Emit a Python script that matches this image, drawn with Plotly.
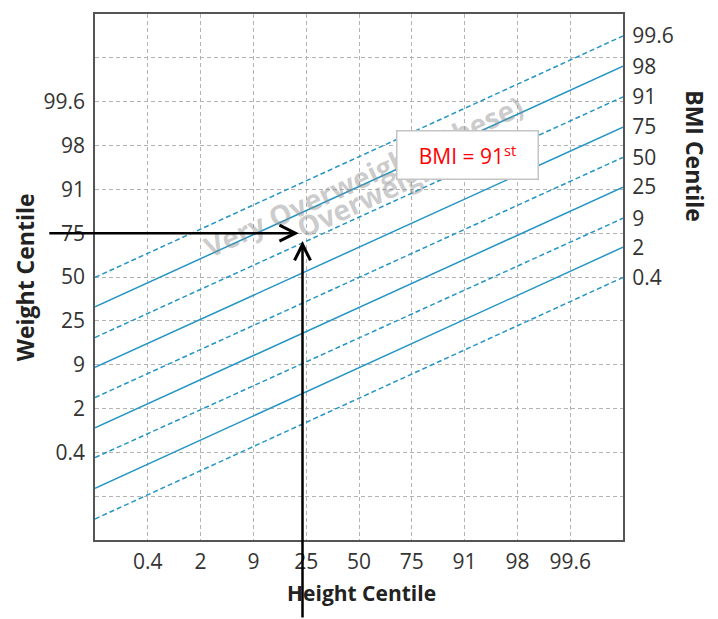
import plotly.graph_objects as go

# ---- data ----
height_ticks = ["0.4", "2", "9", "25", "50", "75", "91", "98", "99.6"]
height_pos = [1, 2, 3, 4, 5, 6, 7, 8, 9]
weight_ticks = ["", "0.4", "2", "9", "25", "50", "75", "91", "98", "99.6", ""]
weight_pos = [1, 2, 3, 4, 5, 6, 7, 8, 9, 10, 11]

bmi_labels = ["99.6", "98", "91", "75", "50", "25", "9", "2", "0.4"]
bmi_left = [5.99, 5.32, 4.62, 3.94, 3.25, 2.56, 1.88, 1.18, 0.48]   # weight units at height-axis start
bmi_right = [11.50, 10.81, 10.11, 9.42, 8.73, 8.05, 7.34, 6.68, 5.99]  # weight units at height-axis end
x_start, x_end = 0, 10

# pointer example: weight 75th centile, height just under 25th centile
pointer_weight = 7.0
pointer_height = 3.93

LINE = "#2595c4"
GRID = "#b3b3b3"
FONT = "Open Sans"

fig = go.Figure()

for i, (lab, yl, yr) in enumerate(zip(bmi_labels, bmi_left, bmi_right)):
    fig.add_trace(go.Scatter(
        x=[x_start, x_end], y=[yl, yr], mode="lines", name=lab,
        line=dict(color=LINE, width=1.5, dash="5px,3px" if i % 2 == 0 else "solid"),
        hoverinfo="skip", showlegend=False,
    ))

# dummy trace to activate the right-hand axis
fig.add_trace(go.Scatter(x=[None], y=[None], yaxis="y2", showlegend=False, hoverinfo="skip"))

axis_font = dict(family=FONT, size=21, color="#333333")

fig.update_layout(
    width=710, height=611,
    margin=dict(l=87, r=95, t=6, b=79, autoexpand=False),
    paper_bgcolor="white", plot_bgcolor="white",
    font=dict(family=FONT, color="#333333"),
    xaxis=dict(
        range=[0, 10], tickvals=height_pos, ticktext=height_ticks,
        showgrid=True, gridcolor=GRID, gridwidth=1, griddash="4px,3px",
        zeroline=False, showline=True, mirror=True, linecolor="#555555", linewidth=1.5,
        ticks="outside", ticklen=2, tickcolor="rgba(0,0,0,0)", tickfont=axis_font,
        fixedrange=True,
    ),
    yaxis=dict(
        range=[0, 12], tickvals=weight_pos, ticktext=weight_ticks,
        showgrid=True, gridcolor=GRID, gridwidth=1, griddash="4px,3px",
        zeroline=False, showline=True, mirror=True, linecolor="#555555", linewidth=1.5,
        ticks="outside", ticklen=4, tickcolor="rgba(0,0,0,0)", tickfont=axis_font,
        fixedrange=True,
    ),
    yaxis2=dict(
        range=[0, 12], overlaying="y", side="right", anchor="x",
        tickvals=bmi_right, ticktext=bmi_labels,
        showgrid=False, zeroline=False, showline=False,
        ticks="outside", ticklen=4, tickcolor="rgba(0,0,0,0)", tickfont=axis_font,
        fixedrange=True,
    ),
)

# watermark labels (semi-transparent so the lines show through)
wm = dict(family=FONT, size=28, color="rgba(140,140,140,0.45)")
fig.add_annotation(x=5.08, y=8.30, xref="x", yref="y", text="<b>Very Overweight (Obese)</b>",
                   showarrow=False, textangle=-24.6, font=wm, xanchor="center", yanchor="middle")
fig.add_annotation(x=5.25, y=7.87, xref="x", yref="y", text="<b>Overweight</b>",
                   showarrow=False, textangle=-24.6, font=wm, xanchor="center", yanchor="middle")

# axis titles
fig.add_annotation(x=-0.132, y=0.5, xref="paper", yref="paper", text="<b>Weight Centile</b>",
                   showarrow=False, textangle=-90, xanchor="center", yanchor="middle",
                   font=dict(family=FONT, size=23, color="#222222"))
fig.add_annotation(x=0.504, y=-0.1008, xref="paper", yref="paper", text="<b>Height Centile</b>",
                   showarrow=False, xanchor="center", yanchor="middle",
                   font=dict(family=FONT, size=21, color="#222222"))
fig.add_annotation(x=1.136, y=0.73, xref="paper", yref="paper", text="<b>BMI Centile</b>",
                   showarrow=False, textangle=90, xanchor="center", yanchor="middle",
                   font=dict(family=FONT, size=23, color="#222222"))

# pointer arrows
fig.add_annotation(x=pointer_height - 0.07, y=pointer_weight, xref="x", yref="y",
                   ax=-251, ay=0, text="", showarrow=True,
                   arrowhead=5, arrowsize=1.25, arrowwidth=2.5, arrowcolor="black")
fig.add_annotation(x=pointer_height, y=pointer_weight - 0.18, xref="x", yref="y",
                   ax=0, ay=400, text="", showarrow=True,
                   arrowhead=5, arrowsize=1.25, arrowwidth=2.5, arrowcolor="black")

# result box
fig.add_annotation(x=0.7055, y=0.732, xref="paper", yref="paper",
                   text="BMI = 91<sup>st</sup>", showarrow=False,
                   font=dict(family=FONT, size=21, color="#ff0000"),
                   bgcolor="white", bordercolor="#c4c4c4", borderwidth=1.5,
                   width=138, height=45, borderpad=1, xanchor="center", yanchor="middle")

fig.write_html("out.html")
